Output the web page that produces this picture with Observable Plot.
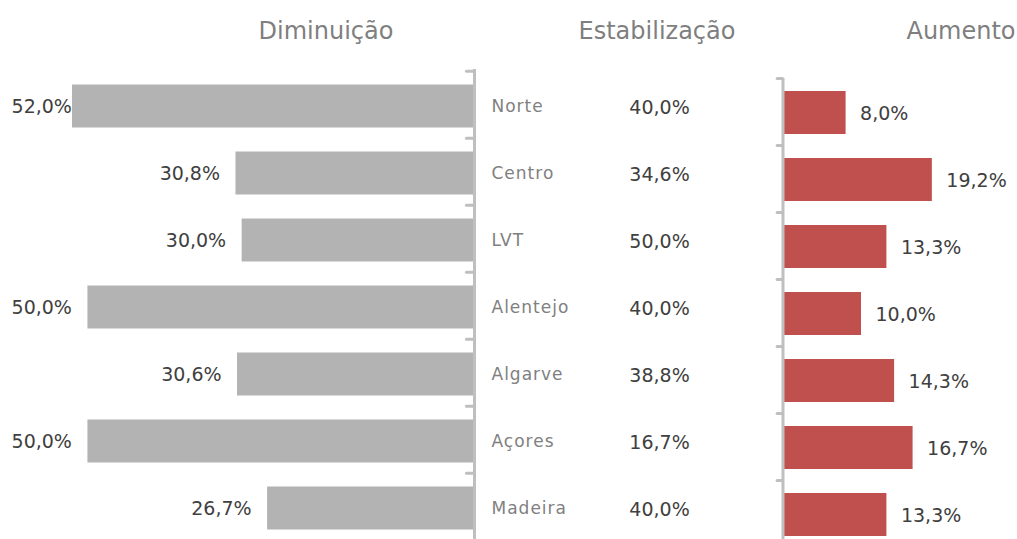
<!DOCTYPE html>
<html>
<head>
<meta charset="utf-8">
<script src="https://cdn.jsdelivr.net/npm/d3@7"></script>
<script src="https://cdn.jsdelivr.net/npm/@observablehq/plot@0.6"></script>
<style>
  body { margin: 0; background: #fff; }
  #chart { position: relative; width: 1017px; height: 539px; overflow: hidden; background: #fff;
           font-family: "DejaVu Sans", Verdana, sans-serif; }
  .title { position: absolute; top: 19px; font-size: 24px; line-height: 24px; color: #7f7f7f;
           transform: translateX(-50%); white-space: nowrap; }
  .panel { position: absolute; top: 0; }
  .names text { letter-spacing: 1px; }
</style>
</head>
<body>
<div id="chart"></div>
<script>
// ---- data ----
const regions = ["Norte", "Centro", "LVT", "Alentejo", "Algarve", "Açores", "Madeira"];
const diminuicao = [52.0, 30.8, 30.0, 50.0, 30.6, 50.0, 26.7];
const estabilizacao = [40.0, 34.6, 50.0, 40.0, 38.8, 16.7, 40.0];
const aumento = [8.0, 19.2, 13.3, 10.0, 14.3, 16.7, 13.3];
const titles = ["Diminuição", "Estabilização", "Aumento"];

const fmt = v => v.toFixed(1).replace(".", ",") + "%";
const dimData = regions.map((r, i) => ({region: r, value: diminuicao[i]}));
const estData = regions.map((r, i) => ({region: r, value: estabilizacao[i]}));
const aumData = regions.map((r, i) => ({region: r, value: aumento[i]}));

const chart = document.getElementById("chart");
const font = {fontFamily: "DejaVu Sans, Verdana, sans-serif", background: "transparent", overflow: "visible"};
const axisGrey = "#bfbfbf";
const H = 539;

function place(svg, left, cls) {
  svg.classList.add("panel");
  if (cls) svg.classList.add(cls);
  svg.style.left = left + "px";
  chart.appendChild(svg);
}

// ---- left panel: Diminuição ----
const leftTop = 69, leftBottom = -3, leftStep = (H - leftBottom - leftTop) / regions.length;
const yLeft = {domain: regions, axis: null, paddingInner: 0.36, paddingOuter: 0.18};
place(Plot.plot({
  width: 480, height: H,
  marginTop: leftTop, marginBottom: leftBottom, marginLeft: 72, marginRight: 7,
  style: font,
  x: {domain: [0, 52], reverse: true, axis: null},
  y: yLeft,
  marks: [
    Plot.barX(dimData, {x: "value", y: "region", fill: "#b3b3b3", dy: 1.5}),
    Plot.ruleX([0], {stroke: axisGrey, strokeWidth: 3, dx: 1}),
    Plot.ruleY(regions, {y: d => d, x1: 0, x2: 0.85, dy: -leftStep / 2, stroke: axisGrey, strokeWidth: 3, strokeLinecap: "round"}),
    // labels sit outside the bar end; kept inside the panel when the bar is near the edge
    Plot.text(dimData, {x: d => Math.min(d.value, 50), y: "region", text: d => fmt(d.value),
      textAnchor: "end", dx: -16, dy: 2, fontSize: 19, fill: "#404040"})
  ]
}), 0);

// ---- middle: region names ----
place(Plot.plot({
  width: 140, height: H,
  marginTop: leftTop, marginBottom: leftBottom, marginLeft: 11, marginRight: 0,
  style: font,
  y: yLeft,
  marks: [
    Plot.text(regions, {y: d => d, text: d => d, frameAnchor: "left", textAnchor: "start",
      fontSize: 17, fill: "#808080", dy: 1})
  ]
}), 480, "names");

// ---- middle: Estabilização values ----
place(Plot.plot({
  width: 100, height: H,
  marginTop: leftTop, marginBottom: leftBottom, marginLeft: 0, marginRight: 0,
  style: font,
  y: yLeft,
  marks: [
    Plot.text(estData, {y: "region", text: d => fmt(d.value), fontSize: 19, fill: "#404040", dy: 2})
  ]
}), 609);

// ---- right panel: Aumento ----
const rightTop = 78, rightBottom = -8, rightStep = (H - rightBottom - rightTop) / regions.length;
place(Plot.plot({
  width: 257, height: H,
  marginTop: rightTop, marginBottom: rightBottom, marginLeft: 24, marginRight: 2,
  style: font,
  x: {domain: [0, 30], axis: null},
  y: {domain: regions, axis: null, paddingInner: 0.36, paddingOuter: 0.18},
  marks: [
    Plot.barX(aumData, {x: "value", y: "region", fill: "#c0504d", dy: 1}),
    Plot.ruleX([0], {stroke: axisGrey, strokeWidth: 3, dx: -1.5}),
    Plot.ruleY(regions, {y: d => d, x1: -0.7, x2: 0, dx: -1.5, dy: -rightStep / 2, stroke: axisGrey, strokeWidth: 3, strokeLinecap: "round"}),
    Plot.text(aumData, {x: "value", y: "region", text: d => fmt(d.value),
      textAnchor: "start", dx: 14, dy: 2, fontSize: 19, fill: "#404040"})
  ]
}), 760);

// ---- panel titles ----
const titleCenters = [326, 657, 961];
titles.forEach((t, i) => {
  const d = document.createElement("div");
  d.className = "title";
  d.textContent = t;
  d.style.left = titleCenters[i] + "px";
  chart.appendChild(d);
});
</script>
</body>
</html>
